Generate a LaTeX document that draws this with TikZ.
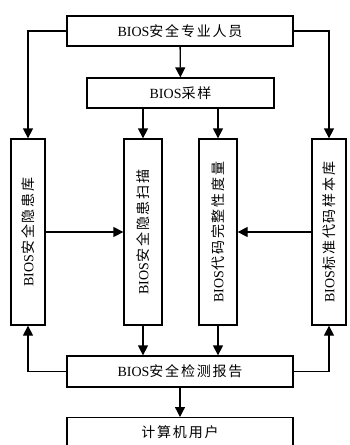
\documentclass[tikz,border=0pt]{standalone}
\usepackage{fontspec}
\setmainfont{Liberation Serif}
\newfontfamily\cjk[LetterSpace=13]{Noto Sans CJK SC}
\usetikzlibrary{arrows.meta}
\tikzset{
  box/.style={draw, line width=1.3pt, inner sep=0pt, fill=white},
  hbox/.style={box, minimum height=30pt},
  vbox/.style={box, minimum height=186pt},
  arr/.style={line width=1.3pt, -{Triangle[length=10pt,width=10pt]}},
  vlab/.style={rotate=90, inner sep=0pt}
}
\begin{document}
\begin{tikzpicture}[x=1pt,y=-1pt,font=\fontsize{14}{16}\selectfont]
\useasboundingbox (0,0) rectangle (350,445);
\node[hbox, minimum width=226pt] (top) at (180,31) {BIOS{\cjk 安全专业人员}};
\node[hbox, minimum width=187pt] (smp) at (180.5,93) {BIOS{\cjk 采样}};
\node[vbox, minimum width=34pt, label={[vlab]center:BIOS{\cjk 安全隐患库}}] (b1) at (28,232) {};
\node[vbox, minimum width=38pt, label={[vlab]center:BIOS{\cjk 安全隐患扫描}}] (b2) at (143,232) {};
\node[vbox, minimum width=38pt, label={[vlab]center:BIOS{\cjk 代码完整性度量}}] (b3) at (218,232) {};
\node[vbox, minimum width=34pt, label={[vlab]center:BIOS{\cjk 标准代码样本库}}] (b4) at (329,232) {};
\node[box, minimum width=226pt, minimum height=31pt] (rep) at (180,371.5) {BIOS{\cjk 安全检测报告}};
\node[hbox, minimum width=226pt, anchor=north] (usr) at (180,417) {\cjk 计算机用户};
\draw[arr] (top.west) -| (b1.north);
\draw[arr] (top.east) -| (b4.north);
\draw[arr] (top) -- (smp);
\draw[arr] (smp.south -| b2.north) -- (b2.north);
\draw[arr] (smp.south -| b3.north) -- (b3.north);
\draw[arr] (b1) -- (b2);
\draw[arr] (b4) -- (b3);
\draw[arr] (b2.south) -- (b2.south |- rep.north);
\draw[arr] (b3.south) -- (b3.south |- rep.north);
\draw[arr] (rep.west) -| (b1.south);
\draw[arr] (rep.east) -| (b4.south);
\draw[arr] (rep) -- (usr);
\end{tikzpicture}
\end{document}
